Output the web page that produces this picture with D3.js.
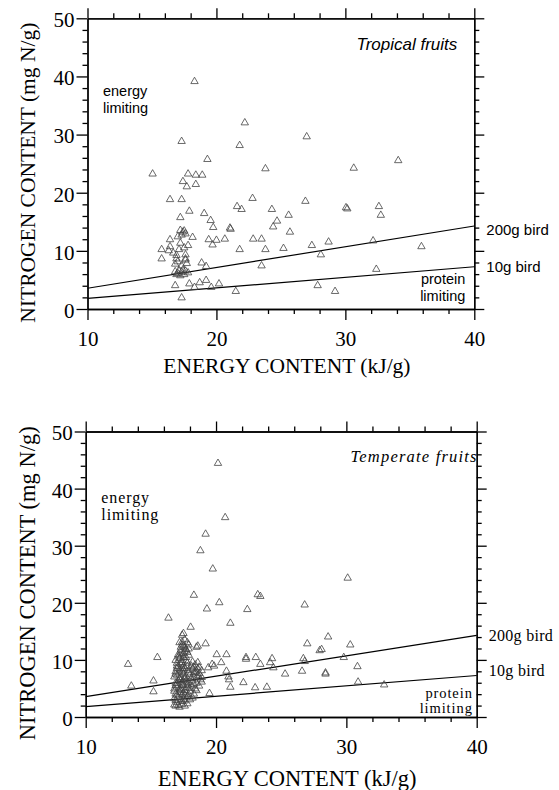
<!DOCTYPE html>
<html>
<head>
<meta charset="utf-8">
<script src="https://cdn.jsdelivr.net/npm/d3@7"></script>
<style>
  body { margin: 0; background: #fff; }
  svg { display: block; }
  .axis path, .axis line { stroke: #000; stroke-width: 1.3px; }
  .axis text { font-family: "Liberation Serif", "Times New Roman", serif; font-size: 21px; fill: #000; }
  .title { font-family: "Liberation Serif", "Times New Roman", serif; font-size: 21.5px; fill: #000; }
  .sans { font-family: "Liberation Sans", Arial, sans-serif; font-size: 14.5px; fill: #000; }
  .serif { font-family: "Liberation Serif", "Times New Roman", serif; font-size: 15.5px; fill: #000; letter-spacing: 0.9px; }
  .tri { fill: none; stroke: #444; stroke-width: 0.8px; }
  .bird { stroke: #000; stroke-width: 1.2px; fill: none; }
</style>
</head>
<body>
<div id="chart"></div>
<script>
// ---- data -------------------------------------------------
// [energy kJ/g, nitrogen mg N/g]
var tropicalPoints = [
  [18.3,39.2],[22.2,32.1],[17.3,28.9],[21.8,28.2],[27.0,29.7],[19.3,25.8],[34.1,25.6],[23.8,24.2],
  [30.65,24.3],[15.05,23.3],[17.8,23.3],[18.4,23.1],[18.9,23.1],[17.4,22.0],[17.7,21.1],[18.4,21.5],
  [16.4,18.9],[17.3,18.9],[22.8,19.1],[26.9,18.6],[21.6,17.7],[21.95,17.2],[17.9,16.9],[19.05,16.5],
  [24.3,17.2],[30.05,17.5],[30.15,17.3],[32.6,17.7],[32.75,16.2],[17.2,15.8],[19.55,15.3],[25.6,16.2],
  [24.7,15.2],[24.4,14.2],[17.2,13.6],[17.4,13.3],[17.6,13.0],[17.5,13.5],[17.3,12.8],[19.75,14.1],
  [21.05,14.0],[21.1,13.8],[25.7,13.3],[16.4,12.0],[18.15,12.4],[19.4,12.0],[20.0,11.9],[20.65,12.1],
  [22.85,12.1],[23.5,12.1],[19.7,11.1],[16.4,10.8],[17.2,11.4],[17.8,11.0],[17.0,12.5],[17.5,10.6],
  [21.8,10.3],[23.8,10.3],[25.2,10.5],[27.4,11.0],[16.3,10.1],[17.1,10.3],[15.75,10.3],[16.65,9.7],
  [16.9,9.3],[17.6,9.4],[15.75,8.7],[16.9,8.7],[17.6,8.7],[18.85,8.0],[19.2,7.4],[23.5,7.5],
  [16.8,7.8],[17.0,8.2],[17.3,7.5],[17.6,8.5],[17.7,7.9],
  [16.8,6.5],[17.0,6.2],[17.1,6.7],[17.3,6.4],[17.5,6.0],[17.6,6.6],[17.8,6.3],[17.2,5.8],[16.9,6.0],[17.4,6.8],
  [28.7,11.6],[28.1,9.4],[32.15,11.8],[35.9,10.8],[32.4,6.9],[27.85,4.1],[29.2,3.1],
  [16.8,4.1],[17.9,4.4],[18.7,4.6],[19.2,5.0],[18.3,3.8],[19.6,3.8],[20.2,4.4],[21.5,3.1],[17.3,2.0]
];

var temperatePoints = [
  [20.15,44.5],[20.7,35.0],[19.2,32.1],[18.8,29.2],[19.75,26.0],[30.1,24.4],[18.3,21.4],[23.2,21.5],
  [23.4,21.2],[26.8,19.7],[20.25,20.1],[19.3,19.0],[22.4,18.9],[16.35,17.4],[21.1,16.5],[18.05,15.8],
  [17.5,14.7],[17.4,14.4],[28.6,14.1],[17.4,13.2],[17.9,12.7],[18.6,12.5],[18.5,12.3],[19.2,12.9],
  [27.0,12.9],[30.3,12.7],[28.1,11.9],[15.5,10.5],[20.05,11.0],[20.8,11.0],[22.3,10.5],[23.05,10.5],
  [24.3,10.3],[26.7,10.3],[27.95,11.7],[29.8,10.5],[13.25,9.3],[13.5,5.5],[15.2,6.4],[15.2,4.5],
  [19.5,4.2],[21.1,5.3],[22.1,6.1],[23.0,5.2],[23.9,5.3],[20.4,9.6],[19.7,9.3],[19.4,8.7],
  [20.8,8.1],[20.95,7.1],[21.0,6.6],[22.3,10.2],[23.4,9.3],[24.15,9.6],[24.4,8.7],[25.3,7.6],
  [26.6,8.1],[26.8,9.8],[28.4,7.8],[28.4,7.6],[30.85,8.9],[30.9,6.2],[32.9,5.7],[19.85,9.0],
  [16.9,2.0],[17.2,1.8],[17.6,2.0],[17.0,2.6],[17.4,2.8],[16.8,3.3],[17.1,3.5],[17.5,3.2],
  [17.8,3.6],[18.2,3.4],[16.9,4.1],[17.2,4.4],[17.4,4.0],[17.7,4.3],[18.0,4.6],[18.3,4.1],
  [16.8,5.0],[17.0,5.3],[17.3,5.1],[17.5,5.6],[17.8,5.2],[18.1,5.5],[18.4,5.0],[16.9,6.0],
  [17.1,6.4],[17.4,6.2],[17.6,6.7],[17.9,6.1],[18.2,6.4],[18.5,6.0],[18.8,6.6],[16.8,7.1],
  [17.0,7.4],[17.3,7.0],[17.5,7.6],[17.7,7.2],[18.0,7.5],[18.3,7.1],[18.6,7.4],[18.9,7.0],
  [16.9,8.0],[17.2,8.3],[17.4,8.0],[17.6,8.6],[17.9,8.2],[18.2,8.5],[18.5,8.1],[18.7,8.8],
  [17.0,9.0],[17.3,9.3],[17.5,9.0],[17.8,9.5],[18.4,9.2],[18.6,9.6],[16.9,10.0],[17.2,10.3],
  [17.4,10.0],[17.7,10.5],[17.1,11.0],[17.5,11.2],[17.8,11.4],[17.3,11.8],[17.6,12.2],[17.4,12.7],
  [17.9,12.0],[17.2,13.1],[17.3,10.8],[17.6,11.6],[17.0,8.6],[17.5,8.3],[17.2,6.8],[17.7,5.9],
  [17.3,4.7],[17.6,3.9],[18.1,9.0],[18.3,7.8],
  [16.8,2.2],[17.1,2.1],[17.4,2.3],[17.8,2.4],[16.9,3.0],[17.3,3.1],[17.6,2.9],[18.0,3.1],
  [17.0,3.9],[17.5,4.3],[17.9,4.0],[16.8,4.6],[17.2,4.9],[17.6,4.7],[18.0,5.1],[18.5,4.7],
  [16.9,5.6],[17.4,5.7],[17.8,5.7],[18.3,5.8],[18.7,5.5],[17.0,5.9],[17.3,6.5],[17.7,6.4],
  [18.1,6.8],[18.6,6.9],[18.9,6.2],[16.9,7.6],[17.2,7.8],[17.6,7.0],[17.9,7.8],[18.4,7.9],
  [18.7,7.7],[17.1,8.9],[17.4,8.6],[17.8,8.9],[18.3,8.8],[18.6,8.5],[18.9,8.2],[17.0,9.5],
  [17.4,9.6],[17.7,9.9],[18.2,9.7],[17.1,10.6],[17.5,10.5],[17.9,10.9],[17.3,11.3],[17.7,11.9],
  [17.5,12.5],[17.3,12.3],[17.8,13.1],[17.6,13.6]
];

// bird requirement lines: N at E = 10 and E = 40
var birdLabels = ["200g bird", "10g bird"];
var birdStart = [3.57, 1.82];
var birdEnd = [14.28, 7.27];

var xMajor = [10, 20, 30, 40];
var xMinor = [12, 14, 16, 18, 22, 24, 26, 28, 32, 34, 36, 38];
var yMajor = [0, 10, 20, 30, 40, 50];
var yMinor = [2, 4, 6, 8, 12, 14, 16, 18, 22, 24, 26, 28, 32, 34, 36, 38, 42, 44, 46, 48];

var yTitle = "NITROGEN CONTENT (mg N/g)";
var xTitle = "ENERGY CONTENT (kJ/g)";

// ---- layout -----------------------------------------------
var W = 559, H = 790;
var svg = d3.select("#chart").append("svg").attr("width", W).attr("height", H);
svg.append("rect").attr("width", W).attr("height", H).attr("fill", "#fff");

var panels = [
  { pts: tropicalPoints, x0: 87.5, x1: 474.3, y0: 309, y1: 18.3, name: "Tropical fruits", sans: true },
  { pts: temperatePoints, x0: 85.7, x1: 476.7, y0: 717, y1: 431.5, name: "Temperate fruits", sans: false }
];

var tri = "M0,-3.9L3.7,2.5L-3.7,2.5Z";

panels.forEach(function(p) {
  var x = d3.scaleLinear().domain([10, 40]).range([p.x0, p.x1]);
  var y = d3.scaleLinear().domain([0, 50]).range([p.y0, p.y1]);
  var g = svg.append("g");

  // minor ticks, all four sides
  g.append("g").attr("class", "axis").attr("transform", "translate(0," + p.y0 + ")")
    .call(d3.axisBottom(x).tickValues(xMinor).tickSize(5).tickSizeOuter(0).tickFormat(""));
  g.append("g").attr("class", "axis").attr("transform", "translate(0," + p.y1 + ")")
    .call(d3.axisTop(x).tickValues(xMinor).tickSize(5).tickSizeOuter(0).tickFormat(""));
  g.append("g").attr("class", "axis").attr("transform", "translate(" + p.x0 + ",0)")
    .call(d3.axisLeft(y).tickValues(yMinor).tickSize(5).tickSizeOuter(0).tickFormat(""));
  g.append("g").attr("class", "axis").attr("transform", "translate(" + p.x1 + ",0)")
    .call(d3.axisRight(y).tickValues(yMinor).tickSize(5).tickSizeOuter(0).tickFormat(""));

  // major ticks
  var bx = g.append("g").attr("class", "axis").attr("transform", "translate(0," + p.y0 + ")")
    .call(d3.axisBottom(x).tickValues(xMajor).tickSize(11).tickSizeOuter(0).tickFormat(d3.format("d")));
  bx.selectAll("text").attr("y", 37).attr("dy", null);
  g.append("g").attr("class", "axis").attr("transform", "translate(0," + p.y1 + ")")
    .call(d3.axisTop(x).tickValues(xMajor).tickSize(10).tickSizeOuter(0).tickFormat(""));
  var ly = g.append("g").attr("class", "axis").attr("transform", "translate(" + p.x0 + ",0)")
    .call(d3.axisLeft(y).tickValues(yMajor).tickSize(11).tickSizeOuter(0).tickFormat(d3.format("d")));
  ly.selectAll("text").attr("x", -13).attr("dy", "0.4em");
  g.append("g").attr("class", "axis").attr("transform", "translate(" + p.x1 + ",0)")
    .call(d3.axisRight(y).tickValues(yMajor).tickSize(10).tickSizeOuter(0).tickFormat(""));

  // bird lines
  birdLabels.forEach(function(lab, i) {
    g.append("line").attr("class", "bird")
      .attr("x1", x(10)).attr("y1", y(birdStart[i]))
      .attr("x2", x(40)).attr("y2", y(birdEnd[i]));
    g.append("text").attr("class", p.sans ? "sans" : "serif")
      .style("font-size", p.sans ? "15px" : "16px")
      .style("letter-spacing", p.sans ? null : "0.3px")
      .attr("x", p.x1 + 12)
      .attr("y", y(birdEnd[i]) + (p.sans ? (i === 0 ? 9 : 5) : (i === 0 ? 6 : 1)))
      .text(lab);
  });

  // points
  g.append("g").selectAll("path").data(p.pts).join("path")
    .attr("class", "tri")
    .attr("transform", function(d) { return "translate(" + x(d[0]) + "," + y(d[1]) + ")"; })
    .attr("d", tri);

  // in-plot labels
  var cls = p.sans ? "sans" : "serif";
  g.append("text").attr("class", cls)
    .style("font-style", "italic").style("font-size", p.sans ? "17px" : "16.5px")
    .style("letter-spacing", p.sans ? null : "1.2px")
    .attr("text-anchor", "end")
    .attr("x", p.sans ? x(40) - 17 : x(40) + 1).attr("y", p.sans ? y(44.6) : y(44.6))
    .text(p.name);
  g.append("text").attr("class", cls).style("font-size", p.sans ? null : "16px")
    .attr("x", x(11.2)).attr("y", y(p.sans ? 36.6 : 37.4)).text("energy");
  g.append("text").attr("class", cls).style("font-size", p.sans ? null : "16px")
    .attr("x", x(11.2)).attr("y", y(p.sans ? 33.7 : 34.5)).text("limiting");
  g.append("text").attr("class", cls).attr("text-anchor", "end")
    .style("font-size", p.sans ? null : "14.5px")
    .attr("x", p.sans ? x(39.3) : x(39.7)).attr("y", y(p.sans ? 4.3 : 3.4)).text("protein");
  g.append("text").attr("class", cls).attr("text-anchor", "end")
    .style("font-size", p.sans ? null : "14.5px")
    .attr("x", p.sans ? x(39.3) : x(39.7)).attr("y", y(p.sans ? 1.4 : 0.7)).text("limiting");

  // axis titles
  g.append("text").attr("class", "title").attr("text-anchor", "middle")
    .style("font-size", p.sans ? "21.5px" : "22.5px")
    .attr("x", (p.x0 + p.x1) / 2 + 6).attr("y", p.y0 + (p.sans ? 64 : 69))
    .text(xTitle);
  g.append("text").attr("class", "title").attr("text-anchor", "middle")
    .style("font-size", p.sans ? "21.5px" : "22.5px")
    .attr("transform", "translate(35," + ((p.y0 + p.y1) / 2 + 9) + ") rotate(-90)")
    .text(yTitle);
});
</script>
</body>
</html>
